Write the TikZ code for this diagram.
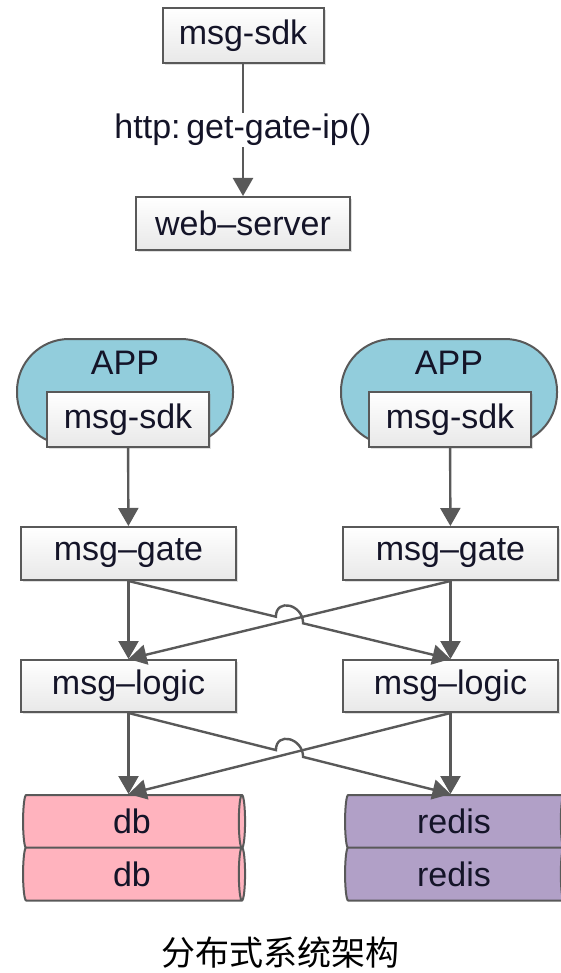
\documentclass[tikz,border=0pt]{standalone}
\usepackage{fontspec}
\setmainfont{Liberation Sans}
\newfontfamily\cjk{Noto Sans CJK SC}
\usetikzlibrary{calc, shapes.geometric, shadows, arrows.meta}

\definecolor{edge}{RGB}{89,89,89}
\definecolor{appblue}{RGB}{146,205,220}
\definecolor{dbpink}{RGB}{255,179,190}
\definecolor{redispurple}{RGB}{177,160,199}
\definecolor{ink}{RGB}{20,20,40}

\tikzset{
	box/.style = {draw = edge, line width = 2pt, top color = white, bottom color = gray!18,
		minimum height = 53pt, inner sep = 0pt, text = ink,
		drop shadow = {shadow xshift = 2pt, shadow yshift = -2pt, opacity = 0.25}},
	app/.style = {draw = edge, line width = 2pt, fill = appblue, rounded corners = 52pt,
		minimum width = 216pt, minimum height = 106pt},
	store/.style = {cylinder, draw = edge, line width = 2pt, shape aspect = 0.25, text = ink,
		minimum width = 53pt, minimum height = 222pt, inner sep = 0pt, cylinder uses custom fill},
	flow/.style = {draw = edge, line width = 2.4pt, -{Triangle[width = 20pt, length = 18pt]}},
}

\begin{document}
\begin{tikzpicture}[x = 1pt, y = -1pt, font = \fontsize{34pt}{40pt}\selectfont]
		\useasboundingbox (0,0) rectangle (560,973);
		\def\hop{14pt};
		
		% request for the gate address
		\node [box, minimum width = 161pt, minimum height = 55pt] (sdk) at (243,35.5) {msg-sdk};
		\node [box, minimum width = 214pt] (web) at (243,223.5) {web–server};
		\draw [flow] (sdk) -- node [fill = white, inner sep = 1pt, text = ink] {http:\,get-gate-ip()} (web);
		
		% clients
		\foreach \side/\x in {L/125, R/449} {
			\node [app, label = {[below = 10pt, text = ink]north:APP}] (app\side) at (\x,392) {};
		}
		\node [box, minimum width = 162pt, minimum height = 55pt] (sdkL) at (128,419.5) {msg-sdk};
		\node [box, minimum width = 162pt, minimum height = 55pt] (sdkR) at (450,419.5) {msg-sdk};
		
		\node [box, minimum width = 215pt] (gateL) at (128.5,553.5) {msg–gate};
		\node [box, minimum width = 215pt] (gateR) at (450.5,553.5) {msg–gate};
		
		\node [box, minimum width = 215pt, minimum height = 52pt] (logicL) at (128.5,686) {msg–logic};
		\node [box, minimum width = 215pt, minimum height = 52pt] (logicR) at (450.5,686) {msg–logic};
		
		% storage
		\node [store, cylinder body fill = dbpink, cylinder end fill = dbpink] (dbA) at (132,821.5) {db};
		\node [store, cylinder body fill = dbpink, cylinder end fill = dbpink] (dbB) at (132,874) {db};
		\node [store, cylinder body fill = redispurple, cylinder end fill = redispurple] (redisA) at (454,821.5) {redis};
		\node [store, cylinder body fill = redispurple, cylinder end fill = redispurple] (redisB) at (454,874) {redis};
		
		\coordinate (gateHop) at ($(gateL.south)!.5!(logicR.north)$);
		\coordinate (logicHop) at ($(logicL.south)!.5!(redisA.north -| logicR)$);
		
		\begin{scope}[flow]
		\draw (sdkL) -- (gateL);
		\draw (sdkR) -- (gateR);
		\draw (gateL) -- (logicL);
		\draw (gateR) -- (logicR);
		\draw (gateR.south) -- (logicL.north);
		\draw (gateL.south) -- ($(gateHop)!\hop!(gateL.south)$)
			.. controls +(0,-19) and +(0,-19) .. ($(gateHop)!\hop!(logicR.north)$) -- (logicR.north);
		\draw (logicL) -- (logicL |- dbA.north);
		\draw (logicR) -- (logicR |- redisA.north);
		\draw (logicR.south) -- (logicL |- dbA.north);
		\draw (logicL.south) -- ($(logicHop)!\hop!(logicL.south)$)
			.. controls +(0,-19) and +(0,-19) .. ($(logicHop)!\hop!(logicR |- redisA.north)$) -- (logicR |- redisA.north);
		\end{scope}
		
		\node (caption) at (280,953) {\cjk 分布式系统架构};
	\end{tikzpicture}
\end{document}
